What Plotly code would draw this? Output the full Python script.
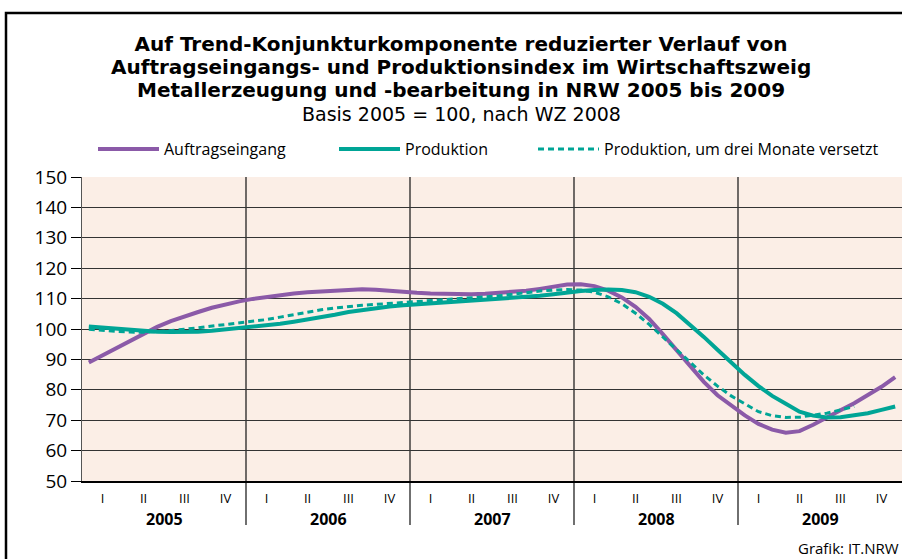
import plotly.graph_objects as go

# ---- data (monthly, Jan 2005 .. Dec 2009) ----
years = ["2005", "2006", "2007", "2008", "2009"]
quarters = ["I", "II", "III", "IV"]
months = list(range(60))  # month index 0 = Jan 2005

auftragseingang = [89.0, 91.3, 93.6, 95.9, 98.4, 100.7, 102.6, 104.2, 105.6, 107.0, 108.1, 109.1,
                   109.9, 110.6, 111.2, 111.7, 112.1, 112.4, 112.8, 113.0, 113.1, 112.9, 112.5, 112.2,
                   111.9, 111.7, 111.5, 111.4, 111.4, 111.6, 111.9, 112.2, 112.6, 113.2, 113.9, 114.6,
                   114.7, 114.1, 112.6, 110.4, 107.3, 103.3, 98.3, 93.2, 87.8, 82.6, 78.2, 74.8,
                   71.6, 68.8, 66.9, 65.9, 66.4, 68.5, 71.0, 73.3, 75.6, 78.2, 81.0, 84.2]

produktion = [100.8, 100.4, 100.0, 99.7, 99.3, 99.1, 99.0, 98.9, 99.1, 99.4, 99.8, 100.2,
              100.6, 101.1, 101.7, 102.4, 103.1, 103.9, 104.7, 105.6, 106.3, 106.9, 107.4, 107.8,
              108.1, 108.4, 108.7, 108.9, 109.2, 109.5, 109.8, 110.1, 110.5, 110.9, 111.4, 112.0,
              112.5, 112.8, 113.0, 112.8, 112.1, 110.6, 108.3, 105.2, 101.5, 97.4, 93.2, 89.0,
              84.9, 81.2, 78.0, 75.4, 72.8, 71.5, 70.9, 71.0, 71.6, 72.3, 73.4, 74.5]

produktion_versetzt = [99.9, 99.5, 99.2, 99.0, 98.9, 99.1, 99.4, 99.9, 100.4, 100.9, 101.4, 101.9,
                       102.5, 103.1, 103.9, 104.7, 105.6, 106.3, 106.9, 107.4, 107.8, 108.1, 108.4, 108.7,
                       108.9, 109.2, 109.5, 109.8, 110.1, 110.5, 110.9, 111.4, 112.0, 112.5, 112.8, 113.0,
                       112.8, 112.1, 110.6, 108.3, 105.2, 101.5, 97.4, 93.2, 89.0, 84.9, 81.2, 78.0,
                       75.4, 72.8, 71.5, 70.9, 71.0, 71.6, 72.3, 73.4, 74.5]

title_lines = ["Auf Trend-Konjunkturkomponente reduzierter Verlauf von",
               "Auftragseingangs- und Produktionsindex im Wirtschaftszweig",
               "Metallerzeugung und -bearbeitung in NRW 2005 bis 2009"]
subtitle = "Basis 2005 = 100, nach WZ 2008"
source = "Grafik: IT.NRW"

PURPLE = "#8b5aa8"
TEAL = "#00a596"
FONT = "Open Sans"
TFONT = "DejaVu Sans"

fig = go.Figure()
fig.add_trace(go.Scatter(x=months, y=auftragseingang, mode="lines", name="Auftragseingang",
                         line=dict(color=PURPLE, width=4), legend="legend"))
fig.add_trace(go.Scatter(x=months, y=produktion, mode="lines", name="Produktion",
                         line=dict(color=TEAL, width=4), legend="legend2"))
fig.add_trace(go.Scatter(x=months[:len(produktion_versetzt)], y=produktion_versetzt, mode="lines",
                         name="Produktion, um drei Monate versetzt",
                         line=dict(color=TEAL, width=3, dash="6px,4px"), legend="legend3"))

L, R, T, B = 82, 0, 177, 78
W, H = 902, 559
pw, ph = W - L - R, H - T - B

def px_x(p):
    return (p - L) / pw

def px_y(p):
    return (H - B - p) / ph

quarter_pos = [3 * k + 1 for k in range(20)]
quarter_txt = [quarters[k % 4] for k in range(20)]

shapes = []
for k in range(1, len(years)):
    shapes.append(dict(type="line", xref="x", yref="paper", x0=12 * k - 0.5, x1=12 * k - 0.5,
                       y0=px_y(525), y1=1, line=dict(color="#222", width=1.3), layer="below"))
# outer frame
shapes.append(dict(type="rect", xref="paper", yref="paper", x0=px_x(6), x1=px_x(930),
                   y0=px_y(600), y1=px_y(13), line=dict(color="black", width=2.5),
                   fillcolor="rgba(0,0,0,0)", layer="above"))

annotations = []
for k, yr in enumerate(years):
    annotations.append(dict(x=12 * k + 5.5, y=px_y(519), xref="x", yref="paper", text="<b>%s</b>" % yr,
                            showarrow=False, font=dict(size=16, color="black", family=FONT),
                            xanchor="center", yanchor="middle"))
for txt, yc in zip(title_lines[1:], [67, 90]):
    annotations.append(dict(x=px_x(461), y=px_y(yc), xref="paper", yref="paper",
                            text="<b>%s</b>" % txt, showarrow=False,
                            font=dict(size=20, color="black", family=TFONT),
                            xanchor="center", yanchor="middle"))
annotations.append(dict(x=px_x(461), y=px_y(114), xref="paper", yref="paper",
                        text=subtitle,
                        showarrow=False, font=dict(size=19, color="black", family=TFONT),
                        xanchor="center", yanchor="middle"))
annotations.append(dict(x=px_x(796), y=px_y(548), xref="paper", yref="paper", text=source,
                        showarrow=False, font=dict(size=15, color="black", family=FONT),
                        xanchor="left", yanchor="middle"))

leg_common = dict(orientation="h", yanchor="middle", xanchor="left", y=px_y(149),
                  itemwidth=61, font=dict(size=16, color="black", family=FONT),
                  bgcolor="rgba(0,0,0,0)", borderwidth=0)

fig.update_layout(
    width=W, height=H,
    margin=dict(l=L, r=R, t=T, b=B, pad=0, autoexpand=False),
    paper_bgcolor="white",
    plot_bgcolor="#fbeee6",
    font=dict(family=FONT, color="black"),
    showlegend=True,
    title=dict(
        text="<b>%s</b>" % title_lines[0],
        x=461 / W, xanchor="center", xref="container",
        y=1 - 44 / H, yanchor="middle", yref="container",
        font=dict(size=20, color="black", family=TFONT),
    ),
    legend=dict(x=px_x(93), **leg_common),
    legend2=dict(x=px_x(334), **leg_common),
    legend3=dict(x=px_x(533), **leg_common),
    shapes=shapes,
    annotations=annotations,
    xaxis=dict(range=[-0.5, 59.5], tickmode="array", tickvals=quarter_pos, ticktext=quarter_txt,
               ticks="", showgrid=False, zeroline=False, showline=True, linecolor="black", linewidth=1.5,
               tickfont=dict(size=13, color="black", family=FONT), ticklabelstandoff=5, fixedrange=True),
    yaxis=dict(range=[50, 150], tickmode="array", tickvals=list(range(50, 151, 10)),
               ticks="outside", ticklen=10, tickcolor="black", tickwidth=1,
               showgrid=True, gridcolor="#333", gridwidth=1, zeroline=False,
               showline=True, linecolor="#555", linewidth=1,
               tickfont=dict(size=19, color="black", family=FONT), fixedrange=True),
)

fig.write_html("out.html", config={"displayModeBar": False},
               post_script="document.body.style.margin='0';document.body.style.overflow='hidden';")
